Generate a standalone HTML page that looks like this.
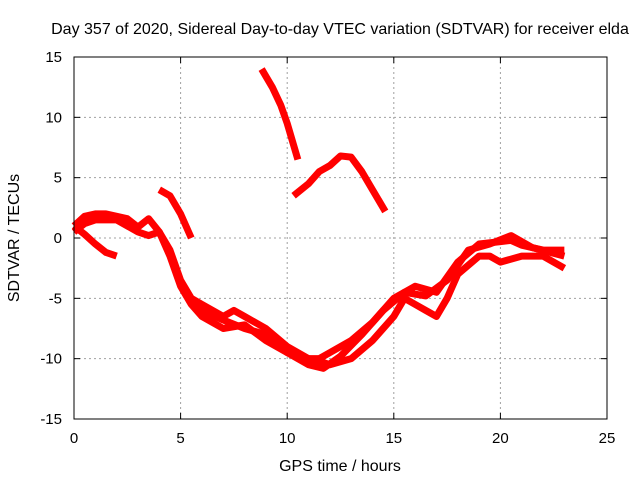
<!DOCTYPE html>
<html><head><meta charset="utf-8"><style>
body{margin:0;background:#fff;}
text{font-family:"Liberation Sans",sans-serif;font-size:15px;fill:#000;}
.big{font-size:16px;}
</style></head><body>
<svg id="chart" width="640" height="480" xmlns="http://www.w3.org/2000/svg">
<text class="big" x="340" y="34" text-anchor="middle">Day 357 of 2020, Sidereal Day-to-day VTEC variation (SDTVAR) for receiver elda</text>
<text class="big" x="340" y="471" text-anchor="middle">GPS time / hours</text>
<text class="big" transform="translate(19,238) rotate(-90)" text-anchor="middle">SDTVAR / TECUs</text>
<g id="grid"></g><g id="marks"></g><g id="axes"></g>
</svg>
<script>
const xTicks=[0,5,10,15,20,25];
const yTicks=[-15,-10,-5,0,5,10,15];
const seriesA=[[0,1],[0.5,1.8],[1,2],[1.5,2],[2,1.8],[2.5,1.6],[3,0.9],[3.5,1.6],[4,0.5],[4.5,-1],[5,-3.5],[5.5,-5],[6,-5.5],[6.5,-6],[7,-6.5],[7.5,-6],[8,-6.5],[9,-7.5],[10,-9],[11,-10],[11.5,-10],[12,-9.5],[13,-8.5],[14,-7],[15,-5],[16,-4],[17,-4.5],[18,-2],[19,-0.5],[20,-0.3],[20.5,-0.2],[21,-0.6],[22,-1],[23,-1]];
const seriesB=[[0,0.5],[0.5,1.2],[1,1.5],[2,1.5],[3,0.5],[3.5,0.2],[4,0.5],[4.5,-1.5],[5,-4],[5.5,-5.5],[6,-6.5],[6.5,-7],[7,-7.5],[8,-7.2],[9,-8.5],[10,-9.5],[11,-10],[11.5,-10.2],[12,-10.5],[13,-10],[14,-8.5],[14.5,-7.5],[15,-6.5],[15.5,-5],[16,-5.5],[16.5,-6],[17,-6.5],[17.5,-5],[18,-3],[19,-1.5],[19.5,-1.5],[20,-2],[21,-1.5],[22,-1.5],[23,-2.5]];
const seriesC=[[0,1],[0.5,0.3],[1,-0.5],[1.5,-1.2],[2,-1.5]];
const seriesD=[[4,4],[4.5,3.5],[5,2],[5.5,0]];
const seriesE=[[8.8,14],[9.3,12.5],[9.7,11],[10,9.5],[10.5,6.5]];
const seriesF=[[10.3,3.5],[11,4.5],[11.5,5.5],[12,6],[12.5,6.8],[13,6.7],[13.5,5.5],[14,4],[14.6,2.2]];
const seriesG=[[5.5,-5],[6,-6],[7,-6.8],[8,-7.5],[9,-8],[10,-9.5],[11,-10.5],[11.7,-10.8],[12.5,-9.8],[13.5,-8],[14.5,-6],[15.5,-4.5],[16.5,-4.8],[17.5,-3.5],[18.5,-1],[19.5,-0.5],[20.5,0.2],[21.5,-0.8],[23,-1.5]];
const allSeries=[seriesA,seriesB,seriesC,seriesD,seriesE,seriesF,seriesG];
const X0=74,X1=607,Y0=419,Y1=57;
const xs=v=>X0+(v-0)/25*(X1-X0);
const ys=v=>Y0-(v+15)/30*(Y0-Y1);
const NS="http://www.w3.org/2000/svg";
const grid=document.getElementById('grid'),marks=document.getElementById('marks'),axes=document.getElementById('axes');
function mk(tag,attrs,parent){const e=document.createElementNS(NS,tag);for(const k in attrs)e.setAttribute(k,attrs[k]);parent.appendChild(e);return e;}
xTicks.forEach(t=>{
 const x=xs(t);
 if(t>0&&t<25){const g=mk('line',{x1:x,x2:x,y1:Y0,y2:Y1,stroke:'#a0a0a0','stroke-dasharray':'2,3'},grid);
 
 }
 const l=mk('text',{x:x,y:Y0+24,'text-anchor':'middle'},axes);l.textContent=t;
 
 
 mk('line',{x1:x,x2:x,y1:Y0,y2:Y0-6,stroke:'#000'},axes);
 mk('line',{x1:x,x2:x,y1:Y1,y2:Y1+6,stroke:'#000'},axes);
});
yTicks.forEach(t=>{
 const y=ys(t);
 if(t>-15&&t<15){const g=mk('line',{x1:X0,x2:X1,y1:y,y2:y,stroke:'#a0a0a0','stroke-dasharray':'2,3'},grid);
 
 }
 const l=mk('text',{x:X0-12,y:y+5,'text-anchor':'end'},axes);l.textContent=t;
 
 
 mk('line',{x1:X0,x2:X0+6,y1:y,y2:y,stroke:'#000'},axes);
 mk('line',{x1:X1,x2:X1-6,y1:y,y2:y,stroke:'#000'},axes);
});
const frame=mk('rect',{x:X0,y:Y1,width:X1-X0,height:Y0-Y1,fill:'none',stroke:'#000'},axes);


allSeries.forEach((s,i)=>{
 const p=mk('polyline',{points:s.map(d=>xs(d[0])+','+ys(d[1])).join(' '),fill:'none',stroke:'#ff0000','stroke-width':7,'stroke-linejoin':'round'},marks);
 
 
});
</script>
</body></html>
